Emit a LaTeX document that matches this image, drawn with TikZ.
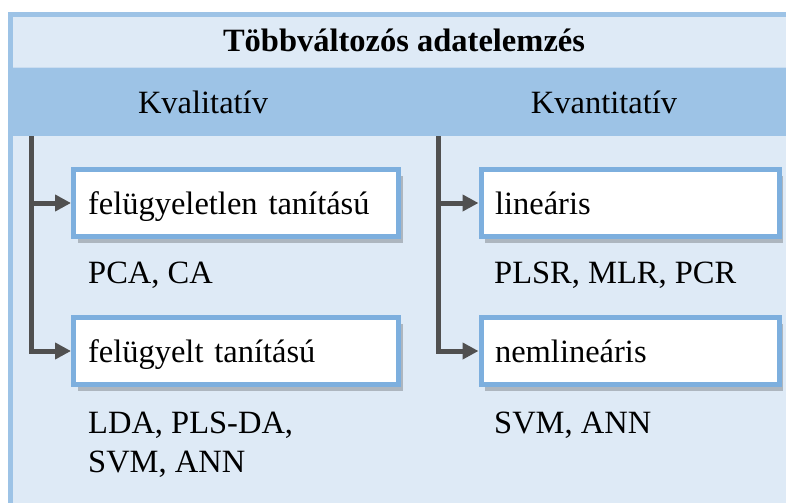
\documentclass[tikz,border=0pt]{standalone}
\usepackage{fontspec}
\setmainfont{Liberation Serif}
\usetikzlibrary{arrows.meta,shadows}
\definecolor{bandblue}{HTML}{9DC3E6}
\definecolor{paleblue}{HTML}{DEEAF6}
\definecolor{seamblue}{HTML}{CADDF0}
\definecolor{boxblue}{HTML}{7DAFDE}
\definecolor{linegray}{HTML}{505050}
\newcommand\bigfnt{\fontsize{32.5}{39}\selectfont}
\begin{document}
\begin{tikzpicture}[x=1pt,y=-1pt,
  bigtxt/.style={font=\bigfnt, inner sep=0pt},
  catbox/.style={rectangle, draw=boxblue, line width=5pt, fill=white,
    minimum height=67pt, align=left, font=\bigfnt,
    text height=30pt, text depth=8pt, inner ysep=0pt, outer sep=2.5pt,
    drop shadow={shadow xshift=4pt, shadow yshift=-6pt, opacity=0.22, fill=black}},
  conn/.style={draw=linegray, line width=5pt, line join=miter,
    -{Triangle[length=16pt,width=16pt]}}]
\useasboundingbox (0,0) rectangle (786,503);
% background frame and bands
\fill[white] (0,0) rectangle (786,503);
\fill[bandblue] (8,12) rectangle (786,503);
\fill[paleblue] (13,17) rectangle (786,68);
\fill[paleblue] (13,136) rectangle (786,503);
\draw[seamblue, line width=1pt] (13,67.5) -- (786,67.5);
% headings
\node[bigtxt, font=\bigfnt\bfseries, anchor=base] (title) at (404,52) {Többváltozós adatelemzés};
\node[bigtxt, anchor=base] (kval) at (203,113) {Kvalitatív};
\node[bigtxt, anchor=base] (kvan) at (604,113) {Kvantitatív};
% boxes
\node[catbox, text width=296pt, inner xsep=14.5pt] (unsup) at (236,203) {felügyeletlen tanítású};
\node[catbox, text width=296pt, inner xsep=14.5pt] (sup) at (236,351) {felügyelt tanítású};
\node[catbox, text width=270pt, inner xsep=14pt] (lin) at (630,203) {lineáris};
\node[catbox, text width=270pt, inner xsep=14pt] (nonlin) at (630,351) {nemlineáris};
% method lists
\node[bigtxt, anchor=base west] (pca) at (88,283) {PCA, CA};
\node[bigtxt, anchor=base west] (lda1) at (88,433) {LDA, PLS-DA,};
\node[bigtxt, anchor=base west] (lda2) at (88,472) {SVM, ANN};
\node[bigtxt, anchor=base west] (plsr) at (494,283) {PLSR, MLR, PCR};
\node[bigtxt, anchor=base west] (svm) at (494,433) {SVM, ANN};
% connectors
\coordinate (lt) at (31,136);
\coordinate (rt) at (438,136);
\draw[conn] (lt) |- (sup.west);
\draw[conn] (lt |- unsup.west) -- (unsup.west);
\draw[conn] (rt) |- (nonlin.west);
\draw[conn] (rt |- lin.west) -- (lin.west);
\end{tikzpicture}
\end{document}
